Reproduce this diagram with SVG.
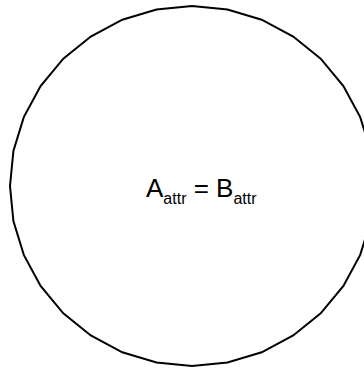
<svg xmlns="http://www.w3.org/2000/svg" width="364" height="372" viewBox="0 0 364 372">
<style>
.shape{fill:#fff;stroke:#000;stroke-width:2;stroke-linejoin:miter}
.t{font-family:"Liberation Sans",Arial,sans-serif;fill:#000}
.main{font-size:26px}
.sub{font-size:16px}
</style>
<rect width="364" height="372" fill="#fff"/>
<g id="node-circle">
<polygon class="shape" points="192.0,6.0 227.5,9.5 261.7,19.7 293.2,36.5 320.7,58.7 343.4,86.0 360.2,117.1 370.6,150.9 374.0,186.0 370.6,221.1 360.2,254.9 343.4,286.0 320.7,313.3 293.2,335.5 261.7,352.3 227.5,362.5 192.0,366.0 156.5,362.5 122.3,352.3 90.8,335.5 63.3,313.3 40.6,286.0 23.8,254.9 13.4,221.1 10.0,186.0 13.4,150.9 23.8,117.1 40.6,86.0 63.3,58.7 90.8,36.5 122.3,19.7 156.5,9.5"/>
<text class="t main" x="146" y="197">A<tspan class="sub" dy="7">attr</tspan><tspan dy="-7"> = B</tspan><tspan class="sub" dy="7">attr</tspan></text>
</g>
</svg>
